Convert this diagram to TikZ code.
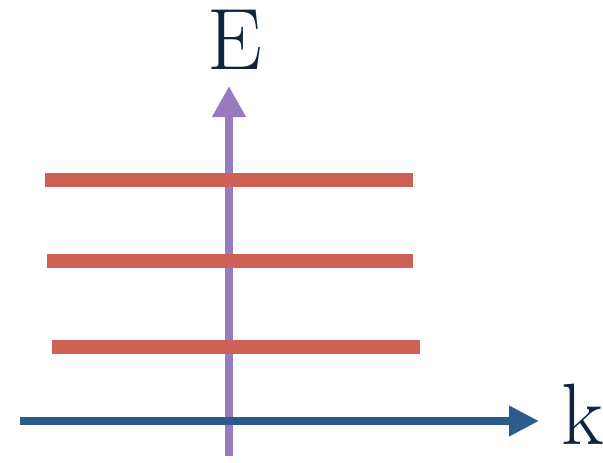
\documentclass[tikz,border=0pt]{standalone}
\usepackage{tikz}
\usetikzlibrary{arrows.meta}
\definecolor{levelred}{RGB}{206,96,86}
\definecolor{axispurple}{RGB}{152,122,190}
\definecolor{axisblue}{RGB}{42,92,142}
\definecolor{labelnavy}{RGB}{16,36,64}
\tikzset{
  level/.style = {line width=10pt, levelred},
  eaxis/.style = {line width=5.6pt, axispurple, -{Triangle[length=0.78cm, width=0.8cm]}},
  kaxis/.style = {line width=5.6pt, axisblue, -{Triangle[length=0.75cm, width=0.72cm]}},
  lbl/.style   = {labelnavy, font=\fontsize{62}{62}\selectfont, inner sep=0pt}
}
\begin{document}
\begin{tikzpicture}[x=0.025cm, y=-0.025cm]
\useasboundingbox (0,0) rectangle (603,462);

%% labels
\node[lbl] (elbl) at (235,40) {E};
\node[lbl] (klbl) at (583,414) {k};

%% axes
\coordinate (ebot) at (229,456);
\coordinate (etop) at (229,86);
\coordinate (kleft) at (20,421);
\coordinate (kright) at (539,421);
\draw[eaxis] (ebot) -- (etop);

%% energy levels
\draw[level] (45,180) -- (413,180);
\draw[level] (47,261) -- (413,261);
\draw[level] (52,347) -- (420,347);

\draw[kaxis] (kleft) -- (kright);

\end{tikzpicture}
\end{document}
